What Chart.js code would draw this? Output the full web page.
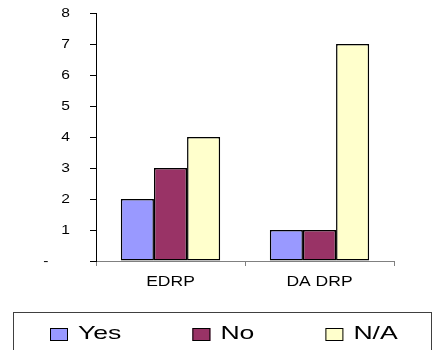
<!DOCTYPE html>
<html>
<head>
<meta charset="utf-8">
<title>EDRP / DA DRP</title>
<script src="https://cdn.jsdelivr.net/npm/chart.js@4.4.1/dist/chart.umd.min.js"></script>
<style>
  html, body { margin: 0; padding: 0; background: #fff; }
  #chart { display: block; }
</style>
</head>
<body>
<canvas id="chart" width="432" height="350"></canvas>
<script>
// Survey answers per programme
const categories = ['EDRP', 'DA DRP'];
const seriesNames = ['Yes', 'No', 'N/A'];
const yesValues = [2, 1];
const noValues = [3, 1];
const naValues = [4, 7];
const seriesColors = ['#9999FF', '#993366', '#FFFFCC'];
const yTicks = [0, 1, 2, 3, 4, 5, 6, 7, 8];

const FONT = "'Liberation Sans', Arial, sans-serif";

// Wide lettering: text is drawn horizontally stretched around its anchor,
// with the amount chosen by font size.
const STRETCH = { 13: 1.2, 14: 1.25, 19: 1.4 };
function stretchFor(font) {
  const m = /(\d+(?:\.\d+)?)px/.exec(font);
  return m ? (STRETCH[Math.round(parseFloat(m[1]))] || 1) : 1;
}

const canvas = document.getElementById('chart');
const ctx = canvas.getContext('2d');
const baseFillText = ctx.fillText.bind(ctx);
ctx.fillText = function (text, x, y, maxWidth) {
  const sx = stretchFor(this.font);
  if (sx === 1) return baseFillText(text, x, y, maxWidth);
  this.save();
  this.translate(x, y);
  this.scale(sx, 1);
  baseFillText(text, 0, 0);
  this.restore();
};

// Boxed legend under the plot
const boxedLegend = {
  id: 'boxedLegend',
  afterDraw(chart) {
    const c = chart.ctx;
    c.save();
    c.strokeStyle = '#404040';
    c.lineWidth = 1;
    c.strokeRect(13.5, 312.5, 418, 60);

    c.font = '19px ' + FONT;
    c.textAlign = 'left';
    c.textBaseline = 'middle';
    const sx = stretchFor(c.font);
    let x = 50;
    chart.data.datasets.forEach(ds => {
      c.fillStyle = ds.backgroundColor;
      c.fillRect(x, 328, 18, 13);
      c.strokeStyle = '#000';
      c.strokeRect(x + 0.5, 328.5, 17, 12);
      c.fillStyle = '#000';
      c.fillText(ds.label, x + 28, 334);
      x += 28 + c.measureText(ds.label).width * sx + 71;
    });
    c.restore();
  }
};

new Chart(canvas, {
  type: 'bar',
  data: {
    labels: categories,
    datasets: [yesValues, noValues, naValues].map((vals, i) => ({
      label: seriesNames[i],
      data: vals,
      backgroundColor: seriesColors[i],
      borderColor: '#000',
      borderWidth: 1.5,
      borderSkipped: false,
      categoryPercentage: 2 / 3,
      barPercentage: 1
    }))
  },
  options: {
    responsive: false,
    animation: false,
    layout: { padding: { top: 13, right: 38, bottom: 0, left: 0 } },
    plugins: {
      legend: { display: false },
      tooltip: { enabled: false }
    },
    scales: {
      x: {
        afterFit(scale) { scale.height = 89; },
        border: { color: '#808080', width: 1 },
        grid: { offset: true, drawOnChartArea: false, drawTicks: true, tickLength: 5, color: '#808080' },
        ticks: { color: '#000', font: { family: FONT, size: 14 }, padding: 8, maxRotation: 0 }
      },
      y: {
        min: yTicks[0],
        max: yTicks[yTicks.length - 1],
        afterFit(scale) {
          scale.width = 96;
          scale.paddingTop = 0;
          scale.paddingBottom = 0;
        },
        afterBuildTicks(scale) { scale.ticks = yTicks.map(v => ({ value: v })); },
        border: { color: '#000', width: 1 },
        grid: { drawOnChartArea: false, drawTicks: true, tickLength: 6, color: '#000' },
        ticks: {
          color: '#000',
          font: { family: FONT, size: 13 },
          padding: 20,
          callback: v => (v === 0 ? '-     ' : String(v))
        }
      }
    }
  },
  plugins: [boxedLegend]
});
</script>
</body>
</html>
